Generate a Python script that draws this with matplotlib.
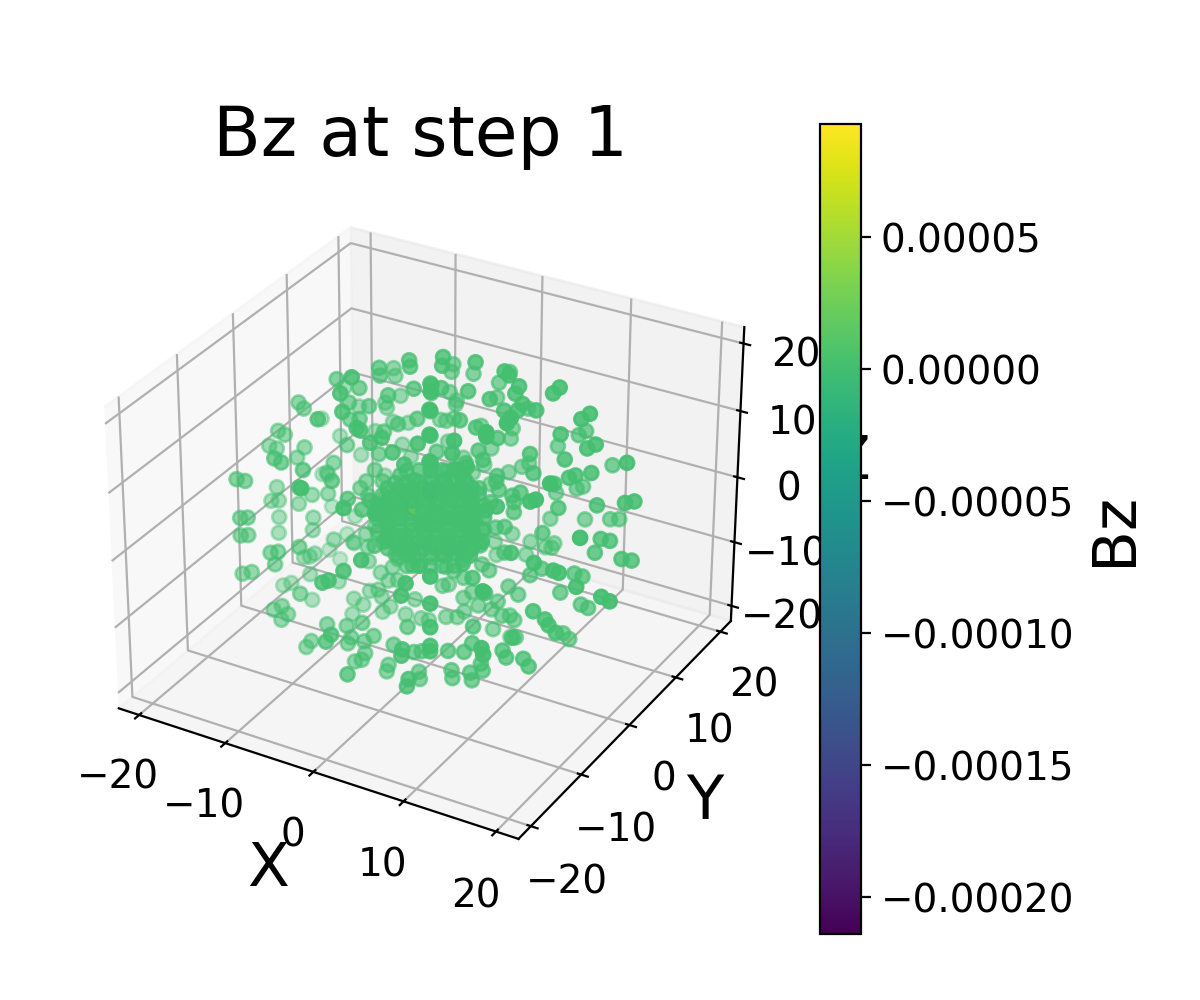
import matplotlib
matplotlib.use("Agg")
import matplotlib.pyplot as plt

# points of the outer shells, all about the same Bz
x_outer = [-13.0,-17.0,-6.4,-10.4,-7.7,-11.6,-15.3,-9.3,-7.5,-11.5,-10.4,-8.1,-8.0,-11.2,-11.0,-4.7,-4.6,-4.2,-10.4,-7.1,
           -12.2,-12.0,-11.3,-6.0,-9.5,-3.8,-17.5,-16.9,-19.8,-10.3,-20.0,-19.2,-21.1,-20.2,-16.9,-17.8,-15.4,-14.6,-17.6,-11.9,
           -15.1,-5.9,-5.5,-13.4,-7.6,-4.4,-3.1,-10.2,-8.2,0.9,-1.9,-9.2,-12.1,-13.5,-19.8,-19.1,-14.3,-8.7,-12.3,-19.9,
           -18.9,-20.3,-21.0,-20.1,-12.6,-7.3,-16.1,-14.2,-8.8,-18.7,-17.7,-9.7,-10.4,-9.5,-12.3,-7.0,-2.6,-5.4,-3.7,0.9,
           -19.6,-18.7,-20.1,-16.0,-15.9,
           -0.9,-1.0,-4.3,-4.5,2.7,-2.0,2.1,5.9,0.9,6.4,7.5,7.1,0.7,4.3,11.9,
           11.2,1.9,-1.1,-4.7,-3.9,-4.0,7.9,7.4,4.2,9.4,5.9,11.0,10.6,2.5,-1.1,2.8,-5.8,-5.1,-4.2,1.0,
           8.4,8.4,5.2,2.3,-4.9,4.9,3.1,0.1,3.6,-0.7,-1.6,4.7,-3.1,1.7,6.3,-2.0,8.8,4.4,3.6,2.1,
           9.2,5.2,5.1,0.0,5.4,-0.5,-3.0,12.1,7.6,12.6,14.3,15.2,10.7,9.9,15.9,15.0,19.3,13.7,15.5,13.8,
           13.1,15.3,11.5,7.5,9.8,10.5,6.9,7.8,4.5,9.6,7.1,7.1,13.2,13.8,12.0,16.2,19.2,20.2,6.9,10.8,
           13.6,14.6,6.7,
           -19.6,-18.7,-20.2,-16.1,-13.6,-16.9,-16.2,-11.2,-9.8,-13.2,-16.1,-15.2,-15.6,-12.7,-17.2,-16.5,-15.9,-19.1,-17.8,-2.7,
           -0.7,-9.6,-9.5,-19.5,-18.4,-16.5,-5.1,-4.4,-13.1,-19.8,-18.8,-12.7,-16.3,-15.9,-14.9,-14.2,-15.0,-8.1,-9.4,-11.3,
           -10.2,-11.5,-7.3,-5.5,-9.6,-4.2,-4.8,-6.8,-7.2,-4.2,-5.3,-5.2,-5.6,-6.4,-2.4,-11.5,-12.1,-2.5,-2.7,4.5,
           1.0,1.1,4.3,-1.9,3.8,3.7,0.4,1.3,-5.2,-0.3,-3.4,-2.5,-7.0,-7.9,-8.0,-4.1,3.7,4.2,-6.7,-7.2,
           -6.1,-8.4,-2.6,-5.9,0.3,-0.4,
           10.3,18.6,16.7,17.7,16.1,19.0,20.1,4.7,7.4,6.4,7.1,4.2,13.7,10.3,15.8,16.4,13.9,14.8,18.3,9.0,
           12.4,21.0,21.9,14.7,15.5,13.7,15.0,15.4,16.2,12.8,13.5,6.6,7.7,6.1,2.6,0.6,0.8,6.1,11.2,3.6,
           4.4,5.9,0.4,7.0,12.6,8.4,2.5,1.5,3.2,5.4,4.7,5.9,6.8,7.3,1.6,0.8,-0.5,7.1,4.9,11.5,
           7.5,6.9,12.5,12.7,7.0,6.1,4.3,10.4,10.8,12.7,13.3,8.0,8.2,6.8,7.0,4.7,4.8,-0.9,-0.2,1.5,
           6.9,6.9,6.9,6.9,6.9,5.1,8.0,2.3,
           0.0,-2.2,0.0,-2.2,0.0,2.2,2.2,0.0,2.2,0.0]
y_outer = [4,12,-4,4,-4,4,12,4,-4,4,4,4,4,12,12,4,4,4,12,4,
           12,12,12,4,12,4,4,4,12,-4,4,4,4,4,4,4,-4,-4,12,4,
           12,-4,-4,12,4,-4,-4,12,4,-4,-4,12,-4,4,12,12,4,4,12,-4,
           -4,4,4,4,-4,-12,4,4,-4,12,4,4,4,4,12,-4,-12,-4,-4,-12,
           -4,-4,4,4,12,
           4,4,12,12,4,12,12,4,12,4,4,4,12,4,4,
           4,4,4,12,12,12,4,4,12,4,4,-4,-4,12,12,4,12,12,12,4,
           -4,-4,4,12,12,-4,4,12,4,12,4,-4,12,4,-4,12,4,12,12,12,
           4,4,4,12,4,4,12,4,12,4,4,4,12,12,4,4,4,12,4,4,
           4,-4,4,12,12,12,4,4,4,-4,4,4,-4,-4,4,4,4,4,12,12,
           12,12,-4,
           -4,-4,4,4,4,12,12,4,4,12,-4,-4,-4,-4,4,4,4,12,12,-12,
           -12,4,4,-4,-4,4,-12,-12,4,4,4,-4,4,-4,-4,-4,-4,4,4,4,
           4,4,-4,-4,-4,-12,-12,-4,-4,-4,-4,-4,-4,-4,-12,-4,-4,-4,-4,-12,
           -4,-4,-12,-4,-12,-12,-4,-4,4,-4,4,4,4,4,4,4,-12,-12,4,4,
           4,4,-4,4,-4,-4,
           4,-4,4,4,4,4,4,12,12,12,12,12,-4,4,-4,-4,4,4,-4,4,
           4,-4,-4,4,4,-4,-4,-4,-4,4,4,4,4,4,12,12,12,4,-4,4,
           4,-4,4,-4,-12,-4,4,4,4,4,4,4,4,4,4,4,4,-4,4,-4,
           4,4,-12,-12,-4,-4,-4,-4,-4,-4,-4,-4,-4,-4,-4,-4,-4,4,4,4,
           -12,-12,-12,-12,-12,4,-4,4,
           0,4,0,4,0,-4,-4,0,-4,0]
z_outer = [13.5,5.9,21.0,13.1,18.2,10.5,3.6,10.8,15.6,8.0,8.5,16.9,15.8,10.9,9.8,19.2,18.3,15.2,7.0,13.2,
           5.3,4.6,2.7,9.3,3.2,10.9,8.4,7.7,0.1,13.5,3.2,2.9,0.5,0.4,1.8,-0.1,5.8,5.5,-1.8,4.0,
           -3.8,13.8,13.6,0.5,7.6,12.2,13.4,-0.4,4.0,14.0,11.7,-1.9,5.3,0.7,-8.6,-8.4,-1.1,1.4,-6.0,1.0,
           1.1,-5.6,-8.0,-7.6,2.5,9.6,-5.2,-4.3,4.9,-13.3,-7.2,-0.7,-2.0,-2.8,-9.4,2.9,8.5,1.9,3.3,9.0,
           -4.8,-4.4,-10.2,-8.7,-13.8,
           21.0,19.7,13.9,12.7,21.5,13.3,15.0,21.3,13.0,20.9,19.7,18.5,10.7,16.7,21.1,
           20.0,17.0,16.4,9.6,8.6,8.0,17.3,16.2,10.3,16.9,15.6,21.4,20.5,6.7,5.8,12.0,5.0,5.1,5.8,12.4,
           18.4,17.8,11.3,5.1,2.0,15.9,8.7,2.8,7.5,0.0,6.8,14.0,0.2,6.3,12.6,-1.7,10.3,2.1,1.3,-0.1,
           7.6,5.7,4.8,-2.7,3.7,4.3,-2.9,14.4,5.9,10.9,17.4,18.5,9.3,8.4,14.3,13.4,12.9,5.3,10.0,9.0,
           8.4,13.6,6.9,-1.2,0.3,0.9,3.4,4.2,1.5,8.1,2.5,1.0,10.2,10.7,3.5,5.5,7.0,7.6,-5.4,-4.0,
           -2.9,-2.5,8.5,
           -7.5,-7.1,-12.7,-10.7,-11.2,-17.0,-18.0,-10.8,-8.8,-15.6,-8.8,-8.3,-10.4,-6.6,-15.4,-15.0,-14.3,-20.4,-21.4,-0.8,
           1.6,-10.8,-13.0,-13.4,-12.7,-17.8,-3.5,-2.9,-17.6,-20.9,-20.1,-13.8,-21.8,-17.6,-16.6,-17.6,-18.8,-14.2,-17.6,-19.6,
           -20.1,-22.1,-16.6,-15.4,-17.3,-11.0,-12.3,-18.2,-19.3,-16.9,-18.2,-20.0,-21.2,-21.8,-16.3,-20.7,-21.9,-20.7,-21.8,-14.1,
           -20.3,-21.4,-15.3,-17.3,-9.9,-10.9,-17.5,-17.0,-19.6,-13.9,-19.5,-19.4,-19.1,-20.3,-18.0,-16.8,-1.9,0.1,-12.8,-15.1,
           -14.6,-17.0,-1.7,-10.9,-4.3,-2.3,
           -0.9,7.0,0.7,0.8,-1.6,-1.4,-1.2,-9.8,-9.0,-10.0,-9.8,-12.0,1.4,-6.3,1.1,1.0,-5.6,-5.7,-0.3,-7.8,
           -9.1,-0.7,-1.0,-10.0,-10.2,-5.8,-6.5,-7.2,-8.0,-15.2,-15.8,-10.5,-11.3,-1.6,-9.4,-11.4,-13.4,-5.5,1.9,-8.3,
           -8.9,-1.8,-10.6,-3.5,2.3,-5.2,-13.0,-14.3,-14.8,-13.3,-14.8,-15.3,-14.9,-15.4,-16.4,-17.6,-18.1,-10.8,-17.8,-10.7,
           -18.0,-18.2,-6.1,-7.0,-13.4,-15.1,-15.7,-13.1,-14.0,-13.4,-14.3,-16.1,-17.1,-18.0,-19.1,-18.5,-19.7,-13.4,-12.9,-11.2,
           2.2,-1.8,-5.3,-8.1,-8.9,-2.1,2.3,-4.0,
           19.9,16.4,18.8,15.3,15.9,19.4,15.8,12.3,11.9,8.4]
bz_outer = [0.000001] * len(x_outer)

# dense core around the origin
x_core = [-5.6,0.5,-2.2,3.9,1.2,6.7,2.8,6.7,0.9,3.9,-2.2,0.5,-5.6,-2.5,-7.6,-2.5,-7.8,-4.5,-8.7,-4.0,
          -6.1,1.1,-0.5,6.7,3.6,8.4,3.2,5.0,-2.2,-0.6,-2.2,0.0,2.2,2.8,1.7,-0.6,-2.8,-3.4,-1.1,1.1,
          0.0,-1.1,-3.9,-2.0,1.7,3.9,2.2,-2.2,-5.0,0.0,-3.4,3.4,-6.2,5.6,-3.9,3.6,
          -2.7,-1.3,0.0,1.3,2.7,
          -4.0,-2.7,-1.3,0.0,1.3,2.7,4.0,
          -5.4,-4.0,-2.7,-1.3,0.0,1.3,2.7,4.0,5.4,
          -6.0,-4.7,-3.4,-2.0,-0.7,0.7,2.0,3.4,4.7,6.0,
          -6.0,-4.7,-3.4,-2.0,-0.7,0.7,2.0,3.4,4.7,6.0,
          -6.0,-4.7,-3.4,-2.0,-0.7,0.7,2.0,3.4,4.7,6.0,
          -5.4,-4.0,-2.7,-1.3,0.0,1.3,2.7,4.0,5.4,
          -4.0,-2.7,-1.3,0.0,1.3,2.7,4.0,
          -2.7,-1.3,0.0,1.3,2.7,
          -2.5,-1.2,0.2,1.5,2.9,4.2,5.6,6.9,
          -2.5,-1.2,0.2,1.5,2.9,4.2,5.6,6.9,
          -2.5,-1.2,0.2,1.5,2.9,4.2,5.6,6.9,
          -2.5,-1.2,0.2,1.5,2.9,4.2,5.6,6.9,
          -2.5,-1.2,0.2,1.5,2.9,4.2,5.6,6.9,
          -2.5,-1.2,0.2,1.5,2.9,4.2,5.6,6.9,
          -2.0,-1.6,-1.1,0.0,-0.2]
y_core = [4,-4,4,-4,4,-4,4,-4,4,-4,4,-4,4,-4,4,-4,4,-4,4,-4,
          4,-4,4,-4,4,-4,4,-4,4,-4,0,0,0,0,0,0,0,0,0,0,
          0,0,0,0,0,0,0,0,0,0,0,0,0,0,0,0,
          0,0,0,0,0,
          0,0,0,0,0,0,0,
          0,0,0,0,0,0,0,0,0,
          0,0,0,0,0,0,0,0,0,0,
          0,0,0,0,0,0,0,0,0,0,
          0,0,0,0,0,0,0,0,0,0,
          0,0,0,0,0,0,0,0,0,
          0,0,0,0,0,0,0,
          0,0,0,0,0,
          -4,-4,-4,-4,-4,-4,-4,-4,
          -4,-4,-4,-4,-4,-4,-4,-4,
          -4,-4,-4,-4,-4,-4,-4,-4,
          -4,-4,-4,-4,-4,-4,-4,-4,
          -4,-4,-4,-4,-4,-4,-4,-4,
          -4,-4,-4,-4,-4,-4,-4,-4,
          0,0,0,0,0]
z_core = [-0.6,8.5,2.5,9.9,2.0,7.3,-1.8,2.7,-6.8,-1.4,-9.5,-2.9,-9.6,-0.9,-5.9,4.0,0.0,3.6,-7.2,-3.0,
          -11.3,-4.0,-10.3,-0.3,-3.0,7.1,3.1,11.8,4.5,10.4,1.8,3.5,3.6,0.8,-2.3,-3.8,-3.7,-1.3,0.1,0.9,
          -1.1,-1.5,0.5,3.4,4.9,1.2,-3.9,-5.7,-2.3,-4.1,5.2,7.8,-1.2,-1.9,-4.8,-4.9,
          6.1,6.7,7.2,7.7,8.3,
          3.8,4.3,4.9,5.4,5.9,6.5,7.0,
          1.5,2.0,2.5,3.1,3.6,4.1,4.7,5.2,5.7,
          -0.6,0.0,0.5,1.0,1.5,2.1,2.6,3.1,3.6,4.2,
          -2.4,-1.8,-1.3,-0.8,-0.3,0.3,0.8,1.3,1.8,2.4,
          -4.2,-3.6,-3.1,-2.6,-2.1,-1.5,-1.0,-0.5,0.0,0.6,
          -5.7,-5.2,-4.7,-4.1,-3.6,-3.1,-2.5,-2.0,-1.5,
          -7.0,-6.5,-5.9,-5.4,-4.9,-4.3,-3.8,
          -8.3,-7.7,-7.2,-6.7,-6.1,
          6.2,6.7,7.2,7.7,8.3,8.8,9.3,9.8,
          4.4,4.9,5.4,5.9,6.5,7.0,7.5,8.0,
          2.6,3.1,3.6,4.1,4.7,5.2,5.7,6.2,
          0.8,1.3,1.8,2.3,2.9,3.4,3.9,4.4,
          -1.0,-0.5,0.0,0.5,1.1,1.6,2.1,2.6,
          -2.8,-2.3,-1.8,-1.3,-0.7,-0.2,0.3,0.8,
          0.9,1.1,2.3,4.2,1.8]
bz_core = [0.000001] * (len(x_core) - 5) + [-0.00003, 0.00008, 0.00002, -0.00002, 0.000015]

x = x_outer + x_core
y = y_outer + y_core
z = z_outer + z_core
bz = bz_outer + bz_core

ticks = [-20, -10, 0, 10, 20]

fig = plt.figure(figsize=(6, 5), dpi=200)
ax = fig.add_axes([0.0542, 0.116, 0.593, 0.712], projection='3d')
sc = ax.scatter(x, y, z, c=bz, cmap='viridis', vmin=-0.000214, vmax=0.000093, s=25)
ax.set_xlim(-22.4, 22.4)
ax.set_ylim(-22.4, 22.4)
ax.set_zlim(-22.4, 22.4)
ax.set_xticks(ticks)
ax.set_yticks(ticks)
ax.set_zticks(ticks)
ax.tick_params(labelsize=14)
ax.set_xlabel('X', fontsize=22)
ax.set_ylabel('Y', fontsize=22)
ax.set_zlabel('Z', fontsize=22)
ax.set_title('Bz at step 1', fontsize=25, pad=5.7)

cax = fig.add_axes([820 / 1200, 66 / 1000, 41 / 1200, 810 / 1000])
cb = fig.colorbar(sc, cax=cax)
cb.set_label('Bz', fontsize=22)
cb.ax.tick_params(labelsize=14)

fig.savefig('out.png')
